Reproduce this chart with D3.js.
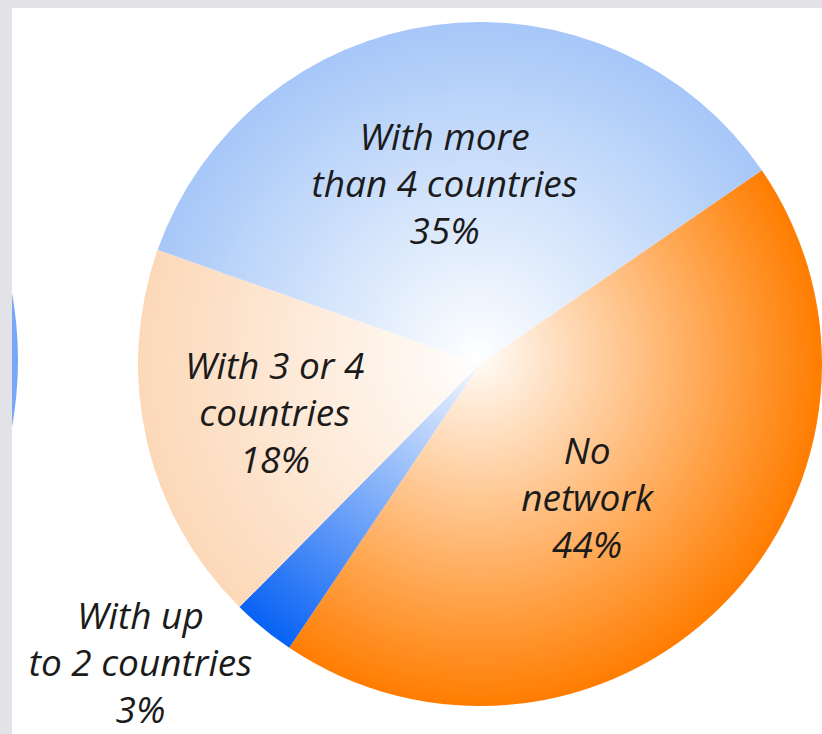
<!DOCTYPE html>
<html>
<head>
<meta charset="utf-8">
<script src="https://cdn.jsdelivr.net/npm/d3@7"></script>
<style>
  body { margin: 0; background: #e3e3e7; }
  svg { display: block; }
</style>
</head>
<body>
<div id="chart"></div>
<script>
// data
var labels = [["No", "network"], ["With up", "to 2 countries"], ["With 3 or 4", "countries"], ["With more", "than 4 countries"]];
var values = [44, 3, 18, 35];
var colors = ["#ff7d00", "#0862f4", "#fcd8b8", "#a6c7f8"];

var W = 822, H = 734;
var cx = 480, cy = 364, radius = 342;
var startDeg = 55.5;
var fontSize = 37, lineH = 47;

// label placement relative to the slice centroid angle: radius + angle tweak (deg)
var labelR = [171, 452, 211, 184],
    labelDa = [6.5, 9.4, -0.5, -3.6];

var svg = d3.select("#chart").append("svg")
    .attr("width", W)
    .attr("height", H);

var defs = svg.append("defs");

// white panel
defs.append("clipPath").attr("id", "panel")
  .append("rect").attr("x", 12).attr("y", 8).attr("width", W - 12).attr("height", H - 8);

svg.append("rect")
    .attr("x", 12).attr("y", 8)
    .attr("width", W - 12).attr("height", H - 8)
    .attr("fill", "#ffffff");

var g = svg.append("g").attr("clip-path", "url(#panel)");

// edge of the neighbouring pie, cut by the panel
g.append("circle")
    .attr("cx", -359).attr("cy", 360).attr("r", 377)
    .attr("fill", "#78a7f5");

// radial gradients, white in the middle (in the pie group's coords)
colors.forEach(function(c, i){
    var grad = defs.append("radialGradient")
        .attr("id", "grad" + i)
        .attr("gradientUnits", "userSpaceOnUse")
        .attr("cx", 0).attr("cy", 0)
        .attr("fx", -3).attr("fy", -10)
        .attr("r", radius);
    grad.append("stop").attr("offset", "0").attr("stop-color", "#ffffff");
    grad.append("stop").attr("offset", "0.06").attr("stop-color", d3.interpolateRgb("#ffffff", c)(0.08));
    grad.append("stop").attr("offset", "1").attr("stop-color", c);
});

var pie = d3.pie()
    .sort(null)
    .value(function(d){ return d; })
    .startAngle(startDeg * Math.PI / 180)
    .endAngle(startDeg * Math.PI / 180 + 2 * Math.PI);

var arc = d3.arc().innerRadius(0).outerRadius(radius);

var arcs = pie(values);

var pieG = g.append("g").attr("transform", "translate(" + cx + "," + cy + ")");

pieG.selectAll("path.slice")
    .data(arcs)
  .enter().append("path")
    .attr("class", "slice")
    .attr("d", arc)
    .attr("fill", function(d, i){ return "url(#grad" + i + ")"; });

// labels
var lab = g.append("g")
    .attr("font-family", "'Open Sans', 'Liberation Sans', sans-serif")
    .attr("font-style", "italic")
    .attr("font-size", fontSize)
    .attr("fill", "#1b1b1b")
    .attr("text-anchor", "middle");

arcs.forEach(function(d, i){
    var a = (d.startAngle + d.endAngle) / 2 + labelDa[i] * Math.PI / 180;
    var x = cx + labelR[i] * Math.sin(a),
        y = cy - labelR[i] * Math.cos(a);
    var lines = labels[i].concat([values[i] + "%"]);
    var t = lab.append("text")
        .attr("x", x)
        .attr("y", y - lineH + fontSize * 0.36);
    lines.forEach(function(l, j){
        t.append("tspan")
            .attr("x", x)
            .attr("dy", j === 0 ? 0 : lineH)
            .text(l);
    });
});
</script>
</body>
</html>
